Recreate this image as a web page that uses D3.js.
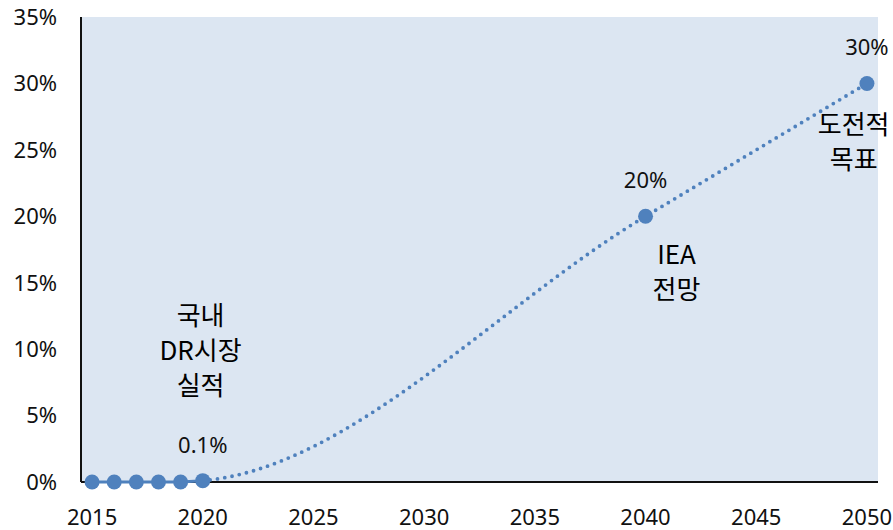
<!DOCTYPE html>
<html>
<head>
<meta charset="utf-8">
<script src="https://cdn.jsdelivr.net/npm/d3@7"></script>
<style>
  body { margin: 0; background: #fff; }
  text { font-family: "Noto Sans", "Noto Sans CJK KR", sans-serif; fill: #111; }
  .note { font-family: "Noto Sans CJK KR", "Noto Sans", sans-serif; fill: #000; }
</style>
</head>
<body>
<svg id="chart"></svg>
<script>
const width = 893
const height = 530

// actual domestic DR share (%)
const actualYears = [2015, 2016, 2017, 2018, 2019, 2020]
const actualValues = [0, 0, 0, 0, 0, 0.1]

// outlook / target points (%)
const outlookYears = [2020, 2040, 2050]
const outlookValues = [0.1, 20, 30]

const yTicks = [0, 5, 10, 15, 20, 25, 30, 35]
const xTicks = [2015, 2020, 2025, 2030, 2035, 2040, 2045, 2050]

const valueLabels = ["0.1%", "20%", "30%"]
const notes = [
    {year: 2019.9, value: 11.8, lines: ["국내", "DR시장", "실적"]},
    {year: 2041.4, value: 16.4, lines: ["IEA", "전망"]},
    {year: 2049.4, value: 26.2, lines: ["도전적", "목표"]}
]

const margin = {top: 17, right: 15, bottom: 48, left: 81}
const color = "#4f81bd"

const svg = d3.select("#chart")
    .attr("width", width)
    .attr("height", height)

const x = d3.scaleLinear()
    .domain([2014.5, 2050.5])
    .range([margin.left, width - margin.right])

const y = d3.scaleLinear()
    .domain([0, 35])
    .range([height - margin.bottom, margin.top])

// plot background
svg.append("rect")
    .attr("x", x(2014.5))
    .attr("y", y(35))
    .attr("width", x(2050.5) - x(2014.5))
    .attr("height", y(0) - y(35))
    .attr("fill", "#dce6f2")

// y axis labels
svg.append("g")
    .selectAll("text")
    .data(yTicks)
    .join("text")
    .attr("x", 57)
    .attr("y", d => y(d))
    .attr("dy", "0.36em")
    .attr("text-anchor", "end")
    .style("font-size", "22px")
    .text(d => d + "%")

// x axis labels
svg.append("g")
    .selectAll("text")
    .data(xTicks)
    .join("text")
    .attr("x", d => x(d))
    .attr("y", y(0) + 43)
    .attr("text-anchor", "middle")
    .style("font-size", "22px")
    .text(d => d)

// axis lines
svg.append("line")
    .attr("x1", x(2014.5)).attr("x2", x(2014.5))
    .attr("y1", y(35)).attr("y2", y(0))
    .attr("stroke", "#111").attr("stroke-width", 2)
svg.append("line")
    .attr("x1", x(2014.5)).attr("x2", x(2050.5))
    .attr("y1", y(0)).attr("y2", y(0))
    .attr("stroke", "#111").attr("stroke-width", 2)

// dotted outlook curve, led in by the last actual year so it leaves 2020 flat
const trendYears = [actualYears[actualYears.length - 2]].concat(outlookYears)
const trendValues = [actualValues[actualValues.length - 2]].concat(outlookValues)
const trend = trendYears.map((d, i) => [d, trendValues[i]])

svg.append("clipPath")
    .attr("id", "trend-clip")
    .append("rect")
    .attr("x", x(outlookYears[0]))
    .attr("y", 0)
    .attr("width", width)
    .attr("height", height)

const line = d3.line()
    .x(d => x(d[0]))
    .y(d => y(d[1]))

svg.append("path")
    .datum(trend)
    .attr("clip-path", "url(#trend-clip)")
    .attr("d", line.curve(d3.curveMonotoneX))
    .attr("fill", "none")
    .attr("stroke", color)
    .attr("stroke-width", 3.8)
    .attr("stroke-linecap", "round")
    .attr("stroke-dasharray", "0 7.4")

// actual solid line
const actual = actualYears.map((d, i) => [d, actualValues[i]])
svg.append("path")
    .datum(actual)
    .attr("d", line.curve(d3.curveLinear))
    .attr("fill", "none")
    .attr("stroke", color)
    .attr("stroke-width", 3)

// markers
svg.append("g")
    .selectAll("circle")
    .data(actual.concat(outlookYears.slice(1).map((d, i) => [d, outlookValues[i + 1]])))
    .join("circle")
    .attr("cx", d => x(d[0]))
    .attr("cy", d => y(d[1]))
    .attr("r", 7.5)
    .attr("fill", color)

// value labels
svg.append("g")
    .selectAll("text")
    .data(outlookYears)
    .join("text")
    .attr("x", d => x(d))
    .attr("y", (d, i) => y(outlookValues[i]) - 28)
    .attr("text-anchor", "middle")
    .style("font-size", "22px")
    .text((d, i) => valueLabels[i])

// notes
for (const n of notes) {
    const t = svg.append("text")
        .attr("class", "note")
        .attr("text-anchor", "middle")
        .style("font-size", "26px")
    n.lines.forEach((s, i) => {
        t.append("tspan")
            .attr("x", x(n.year))
            .attr("y", y(n.value) + i * 35)
            .text(s)
    })
}
</script>
</body>
</html>
